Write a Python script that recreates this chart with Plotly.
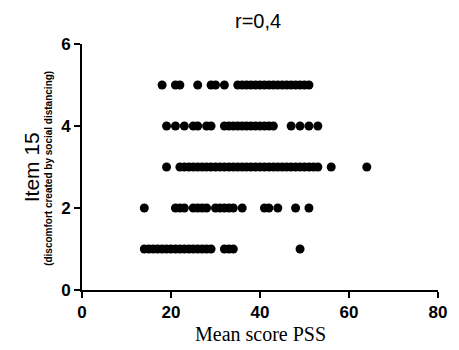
import plotly.graph_objects as go

title_text = "r=0,4"
x_title = "Mean score PSS"
y_title_main = "Item 15"
y_title_sub = "(discomfort created by social distancing)"

row5_x = [18, 21, 22, 26, 29, 30, 32] + list(range(35, 52))
row4_x = [19, 21, 23, 25, 26, 28, 29] + list(range(32, 44)) + [47, 49, 51, 53]
row3_x = [19] + list(range(22, 54)) + [56, 64]
row2_x = [14, 21, 22, 23, 25, 26, 27, 28, 30, 31, 32, 33, 34, 36, 41, 42, 44, 48, 51]
row1_x = [14, 15, 16, 17, 18, 19, 20, 21, 22, 23, 24, 25, 26, 27, 28, 29, 32, 33, 34, 49]

rows = {5: row5_x, 4: row4_x, 3: row3_x, 2: row2_x, 1: row1_x}
xs, ys = [], []
for yv, xl in rows.items():
    xs += xl
    ys += [yv] * len(xl)

x_ticks = [0, 20, 40, 60, 80]
y_ticks = [0, 2, 4, 6]

W, H = 459, 350
pl, pr, pt, pb = 82, 12, 44, 60
pw, ph = W - pl - pr, H - pt - pb

def px(xp):
    return (xp - pl) / pw

def py(yp):
    return (H - pb - yp) / ph

fig = go.Figure(go.Scatter(
    x=xs, y=ys, mode="markers",
    marker=dict(color="black", size=9, line=dict(width=0)),
    cliponaxis=False, showlegend=False,
))

fig.update_layout(
    width=W, height=H,
    margin=dict(l=pl, r=pr, t=pt, b=pb),
    paper_bgcolor="white", plot_bgcolor="white",
    font=dict(family="Arial, Liberation Sans", color="black"),
)

fig.add_annotation(text=title_text, x=px(262), y=py(21), xref="paper", yref="paper",
                   showarrow=False, font=dict(size=20), xanchor="center", yanchor="middle")
fig.add_annotation(text=x_title, x=px(265), y=py(334), xref="paper", yref="paper",
                   showarrow=False, font=dict(size=20, family="Liberation Serif, Times New Roman"),
                   xanchor="center", yanchor="middle")
fig.add_annotation(text=y_title_main, x=px(30), y=py(167), xref="paper", yref="paper",
                   showarrow=False, textangle=-90, font=dict(size=21),
                   xanchor="center", yanchor="middle")
fig.add_annotation(text="<b>" + y_title_sub + "</b>", x=px(47), y=py(168), xref="paper", yref="paper",
                   showarrow=False, textangle=-90, font=dict(size=10),
                   xanchor="center", yanchor="middle")

fig.update_xaxes(range=[0, 80], tickvals=x_ticks, ticktext=["<b>%d</b>" % v for v in x_ticks],
                 showgrid=False, zeroline=False, showline=True, linecolor="black", linewidth=2,
                 ticks="outside", ticklen=6, tickwidth=2, tickcolor="black",
                 tickfont=dict(size=17), fixedrange=True)
fig.update_yaxes(range=[0, 6], tickvals=y_ticks, ticktext=["<b>%d</b>" % v for v in y_ticks],
                 showgrid=False, zeroline=False, showline=True, linecolor="black", linewidth=2,
                 ticks="outside", ticklen=6, tickwidth=2, tickcolor="black",
                 tickfont=dict(size=17), fixedrange=True)

fig.write_html("out.html")
